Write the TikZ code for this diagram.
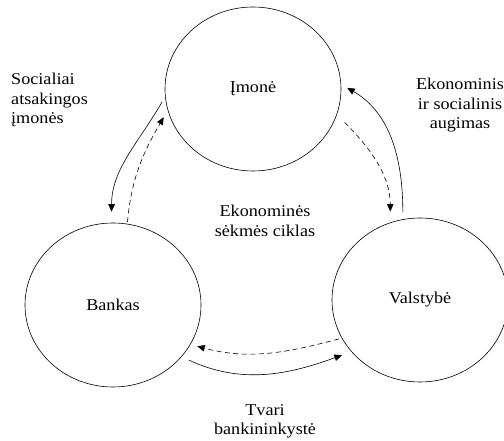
\documentclass[tikz,border=0pt]{standalone}
\RequirePackage{fontspec}
\setmainfont[FakeStretch=1.1]{Liberation Serif}
\usetikzlibrary{shapes.geometric}
\usetikzlibrary{arrows.meta}

\begin{document}
\begin{tikzpicture}[x=1pt,y=1pt,font=\fontsize{16.5}{19.5}\selectfont,
    sector/.style={draw,ellipse,line width=0.6pt,minimum width=176pt,minimum height=164pt,inner sep=0pt},
    flow/.style={line width=0.6pt,-{Triangle[length=7.5pt,width=6.5pt]}},
    feedback/.style={flow,dash pattern=on 5pt off 3.5pt},
    caption/.style={align=center,inner sep=0pt}]
    \useasboundingbox (0,0) rectangle (504,441);

    \node[sector] (imone) at (253,352) {Įmonė};
    \node[sector] (bankas) at (113,136) {Bankas};
    \node[sector] (valstybe) at (420,141) {Valstybė};

    \draw[flow,shorten <=6pt,shorten >=11pt] (imone.185) to[out=240,in=90] (bankas.91);
    \draw[feedback,shorten <=2pt,shorten >=8pt] (bankas.80) to[out=85,in=240] (imone.194);
    \draw[flow,shorten <=7pt,shorten >=7pt] (valstybe.102) to[out=90,in=-30] (imone.3);
    \draw[feedback,shorten <=11pt,shorten >=11pt] (imone.-17) to[out=-45,in=90] (valstybe.111);
    \draw[feedback,shorten <=3pt,shorten >=7pt] (valstybe.206) to[out=195,in=-15] (bankas.-27);
    \draw[flow,shorten <=8pt,shorten >=10pt] (bankas.-37) to[out=-25,in=200] (valstybe.217);

    \node[caption,anchor=north west,align=left] (socialiai) at (11,368) {Socialiai\\atsakingos\\įmonės};
    \node[caption,anchor=north] (augimas) at (460,363) {Ekonominis\\ir socialinis\\augimas};
    \node[caption,anchor=north] (ciklas) at (265,236) {Ekonominės\\sėkmės ciklas};
    \node[caption,anchor=north] (tvari) at (265,37) {Tvari\\bankininkystė};
\end{tikzpicture}
\end{document}
